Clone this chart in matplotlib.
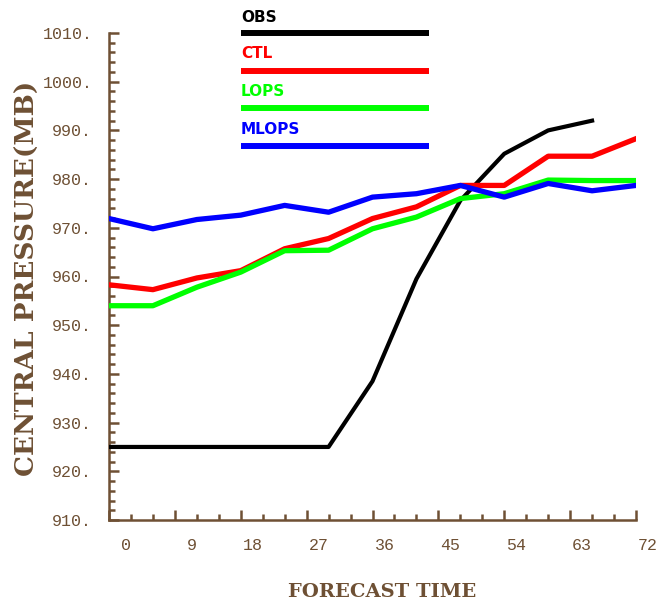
import matplotlib
matplotlib.use("Agg")
import matplotlib.pyplot as plt
from matplotlib.ticker import MultipleLocator, FixedLocator, NullFormatter
import matplotlib.transforms as mtransforms

# ---- data ----
hours_model = [0, 6, 12, 18, 24, 30, 36, 42, 48, 54, 60, 66, 72]
hours_obs = [0, 6, 12, 18, 24, 30, 36, 42, 48, 54, 60, 66]
obs = [925, 925, 925, 925, 925, 925, 938.5, 959.5, 975.6, 985.2, 990, 992]
ctl = [958.3, 957.3, 959.7, 961.2, 965.7, 967.8, 971.9, 974.3, 978.7, 978.7, 984.7, 984.7, 988.3]
lops = [954, 954, 957.8, 960.9, 965.3, 965.4, 969.8, 972.2, 976, 977, 979.8, 979.7, 979.7]
mlops = [971.9, 969.8, 971.7, 972.6, 974.6, 973.2, 976.3, 977, 978.7, 976.3, 979.1, 977.6, 978.7]

series_names = ["OBS", "CTL", "LOPS", "MLOPS"]
xticks = [0, 9, 18, 27, 36, 45, 54, 63, 72]
yticks = [910, 920, 930, 940, 950, 960, 970, 980, 990, 1000, 1010]
ytick_labels = [f"{v}." for v in yticks]
xlabel = "FORECAST TIME"
ylabel = "CENTRAL PRESSURE(MB)"

# ---- style ----
BROWN = "#6E5034"
colors = ["#000000", "#FF0000", "#00FF00", "#0000FF"]

W, H = 660, 606
fig = plt.figure(figsize=(W / 100, H / 100), dpi=100)
L, R, T, B = 109, 636, 33, 520
ax = fig.add_axes([L / W, 1 - B / H, (R - L) / W, (B - T) / H])

ax.set_xlim(0, 72)
ax.set_ylim(910, 1010)

ax.plot(hours_obs, obs, color=colors[0], lw=3.0, zorder=3)
ax.plot(hours_model, ctl, color=colors[1], lw=3.8, zorder=4)
ax.plot(hours_model, lops, color=colors[2], lw=3.8, zorder=5)
ax.plot(hours_model, mlops, color=colors[3], lw=3.8, zorder=6)

# spines
for s in ["top", "right"]:
    ax.spines[s].set_visible(False)
for s in ["left", "bottom"]:
    ax.spines[s].set_color(BROWN)
    ax.spines[s].set_linewidth(1.8)
    ax.spines[s].set_capstyle("projecting")

# ticks
ax.xaxis.set_major_locator(FixedLocator(xticks))
ax.xaxis.set_minor_locator(MultipleLocator(3))
ax.yaxis.set_major_locator(FixedLocator(yticks))
ax.yaxis.set_minor_locator(MultipleLocator(2))
ax.tick_params(which="both", direction="in", color=BROWN, width=1.8)
ax.tick_params(which="major", length=7)
ax.tick_params(which="minor", length=4)
ax.yaxis.set_ticklabels(ytick_labels)
ax.tick_params(axis="y", which="major", pad=12, labelsize=12, labelcolor=BROWN)
for lab in ax.get_yticklabels():
    lab.set_fontfamily("Liberation Mono")
ax.xaxis.set_major_formatter(NullFormatter())

# x tick labels: right aligned in a 2-char field after the tick
offset = mtransforms.ScaledTranslation(22 / 100, -26 / 100, fig.dpi_scale_trans)
trans = mtransforms.blended_transform_factory(ax.transData, ax.transAxes) + offset
for v in xticks:
    ax.text(v, 0, str(v), transform=trans, ha="right", va="center",
            fontsize=12, color=BROWN, family="Liberation Mono", clip_on=False)

# axis titles
fig.text(382 / W, 1 - 592 / H, xlabel, ha="center", va="center", fontsize=14,
         fontweight="bold", family="DejaVu Serif", color=BROWN)
fig.text(27 / W, 1 - 278 / H, ylabel, ha="center", va="center", rotation=90,
         fontsize=19, fontweight="bold", family="DejaVu Serif", color=BROWN)

# legend drawn as labelled bars
leg_line_y = [33, 71, 108, 146]
leg_text_y = [17, 54, 92, 130]
x0, x1 = (241 - L) / (R - L), (429 - L) / (R - L)
for name, c, ly, ty in zip(series_names, colors, leg_line_y, leg_text_y):
    yl = (B - ly) / (B - T)
    yt = (B - ty) / (B - T)
    ax.plot([x0, x1], [yl, yl], transform=ax.transAxes, color=c, lw=4.3,
            solid_capstyle="butt", clip_on=False, zorder=7)
    ax.text(x0, yt, name, transform=ax.transAxes, ha="left", va="center",
            fontsize=11, fontweight="bold", family="DejaVu Sans", color=c,
            clip_on=False)

fig.savefig("out.png", dpi=100)
